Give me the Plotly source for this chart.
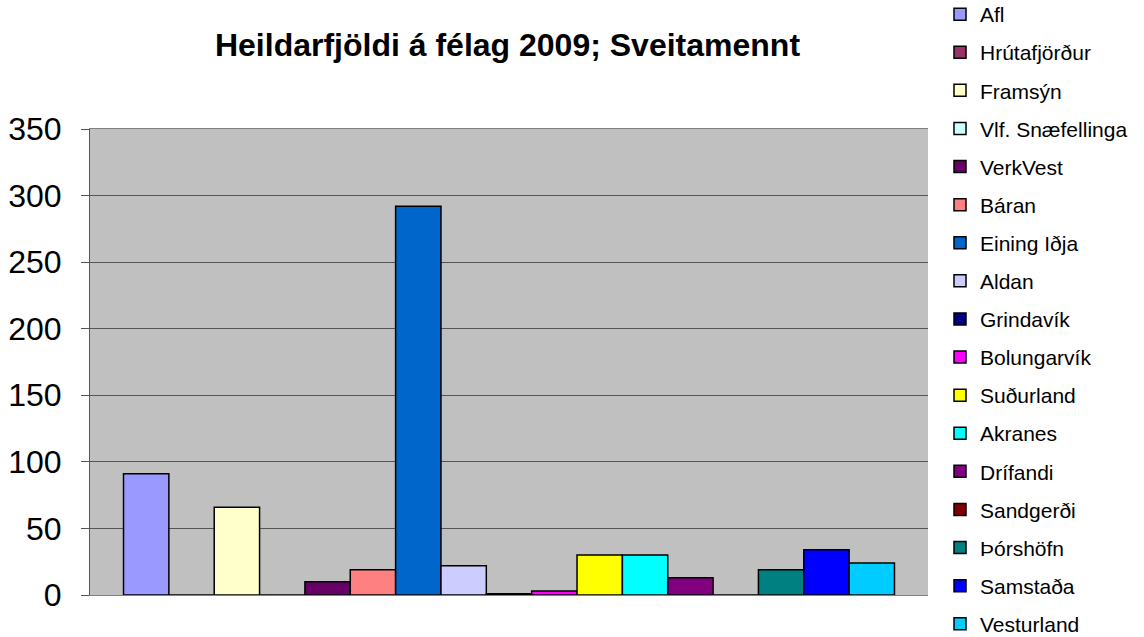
import plotly.graph_objects as go

names = ["Afl", "Hrútafjörður", "Framsýn", "Vlf. Snæfellinga", "VerkVest", "Báran",
         "Eining Iðja", "Aldan", "Grindavík", "Bolungarvík", "Suðurland", "Akranes",
         "Drífandi", "Sandgerði", "Þórshöfn", "Samstaða", "Vesturland"]
values = [91, 0, 66, 0, 10, 19, 292, 22, 1, 3, 30, 30, 13, 0, 19, 34, 24]
colors = ["#9999FF", "#993366", "#FFFFCC", "#CCFFFF", "#660066", "#FF8080",
          "#0066CC", "#CCCCFF", "#000080", "#FF00FF", "#FFFF00", "#00FFFF",
          "#800080", "#800000", "#008080", "#0000FF", "#00CCFF"]
category = ["Sveitamennt"]
y_ticks = [0, 50, 100, 150, 200, 250, 300, 350]

W, H = 1144, 637
L, R, T, B = 90, 216, 129, 42
plot_w = W - L - R
plot_h = H - T - B

fig = go.Figure()
for n, v, c in zip(names, values, colors):
    fig.add_trace(go.Bar(
        x=category, y=[v], name=n, legendgroup=n,
        marker=dict(color=c, line=dict(color="black", width=1.5)),
    ))

fig.update_layout(
    width=W, height=H,
    barmode="group", bargap=0.08, bargroupgap=0,
    plot_bgcolor="#C0C0C0", paper_bgcolor="white",
    margin=dict(l=L, r=R, t=T, b=B, autoexpand=False),
    title=dict(text="<b>Heildarfjöldi á félag 2009; Sveitamennt</b>",
               x=507.5 / W, xanchor="center",
               y=1 - 45 / H, yanchor="middle",
               font=dict(family="Liberation Sans, Arial", size=32, color="black")),
    font=dict(family="Liberation Sans, Arial", color="black"),
    showlegend=True,
    legend=dict(
        x=(940 - L) / plot_w, xanchor="left",
        y=(H - B + 6) / plot_h, yanchor="top",
        font=dict(size=21, family="Liberation Sans, Arial"),
        tracegroupgap=7.8, bgcolor="rgba(0,0,0,0)",
        maxheight=900,
    ),
)
fig.update_xaxes(showticklabels=False, showgrid=False, showline=True,
                 linecolor="#808080", linewidth=1, mirror=True, ticks="")
fig.update_yaxes(range=[0, 350], tickvals=y_ticks, showgrid=True,
                 gridcolor="#555555", gridwidth=1, automargin=False,
                 showline=True, linecolor="#555555", linewidth=1,
                 ticks="outside", ticklen=8, tickcolor="#555555",
                 tickfont=dict(size=32, family="Liberation Sans, Arial"),
                 ticklabelstandoff=13, zeroline=False)

fig.write_html("out.html",
               config={"displayModeBar": False},
               post_script="document.body.style.margin='0';document.body.style.overflow='hidden';")
